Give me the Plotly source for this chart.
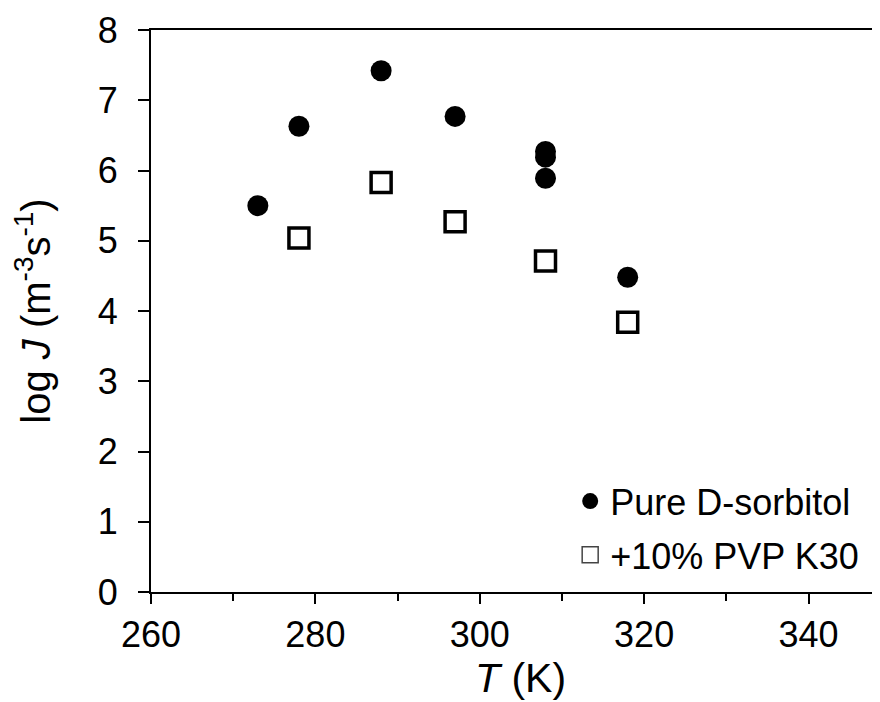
import plotly.graph_objects as go

# Data
pure_T = [273, 278, 288, 297, 308, 308, 308, 318]
pure_logJ = [5.50, 6.63, 7.42, 6.77, 6.27, 6.19, 5.89, 4.48]

pvp_T = [278, 288, 297, 308, 318]
pvp_logJ = [5.04, 5.83, 5.27, 4.71, 3.84]

x_tickvals = [260, 280, 300, 320, 340]
x_minor_tickvals = [270, 290, 310, 330]
y_tickvals = [0, 1, 2, 3, 4, 5, 6, 7, 8]

FONT = "Liberation Sans, Arial, sans-serif"

fig = go.Figure()

fig.add_trace(go.Scatter(
    x=pure_T, y=pure_logJ, mode="markers", showlegend=False,
    marker=dict(symbol="circle", size=21, color="black", line=dict(width=0)),
))
fig.add_trace(go.Scatter(
    x=pvp_T, y=pvp_logJ, mode="markers", showlegend=False,
    marker=dict(symbol="square-open", size=20, color="black", line=dict(width=3.5)),
))
# legend entries
fig.add_trace(go.Scatter(
    x=[None], y=[None], mode="markers", name="Pure D-sorbitol", legendgroup="a",
    marker=dict(symbol="circle", size=18, color="black", line=dict(width=0)),
))
fig.add_trace(go.Scatter(
    x=[None], y=[None], mode="markers", name="+10% PVP K30", legendgroup="b",
    marker=dict(symbol="square-open", size=17, color="#444", line=dict(width=1.5)),
))

fig.add_annotation(
    text="<i>T</i> (K)", xref="x", x=305, yref="paper", y=0,
    xanchor="center", yanchor="middle", yshift=-86, showarrow=False,
    font=dict(size=41, family=FONT, color="black"),
)

fig.update_layout(
    template="none",
    width=872, height=694,
    margin=dict(l=143, r=0, t=22, b=110, autoexpand=False),
    plot_bgcolor="white", paper_bgcolor="white",
    font=dict(family=FONT, color="black", size=34),
    showlegend=True,
    legend=dict(
        x=0.575, y=0.215, xanchor="left", yanchor="top",
        bgcolor="rgba(0,0,0,0)", font=dict(size=36),
        tracegroupgap=4,
    ),
    xaxis=dict(
        range=[260, 348.7], tickvals=x_tickvals, ticks="outside", ticklen=10, tickwidth=2,
        minor=dict(tickvals=x_minor_tickvals, ticks="outside", ticklen=7, tickwidth=2, tickcolor="black"),
        showline=True, linecolor="black", linewidth=2, mirror=True,
        showgrid=False, zeroline=False, tickcolor="black", automargin=False,
        tickfont=dict(size=36),
    ),
    yaxis=dict(
        range=[0, 8], tickvals=y_tickvals, ticks="outside", ticklen=11, tickwidth=2,
        showline=True, linecolor="black", linewidth=2,
        showgrid=False, zeroline=False, tickcolor="black", automargin=False,
        tickfont=dict(size=36), ticklabelstandoff=13,
        title=dict(text="log <i>J</i> (m<sup>-3</sup>s<sup>-1</sup>)", font=dict(size=40), standoff=38),
    ),
)

fig.write_html("out.html")
